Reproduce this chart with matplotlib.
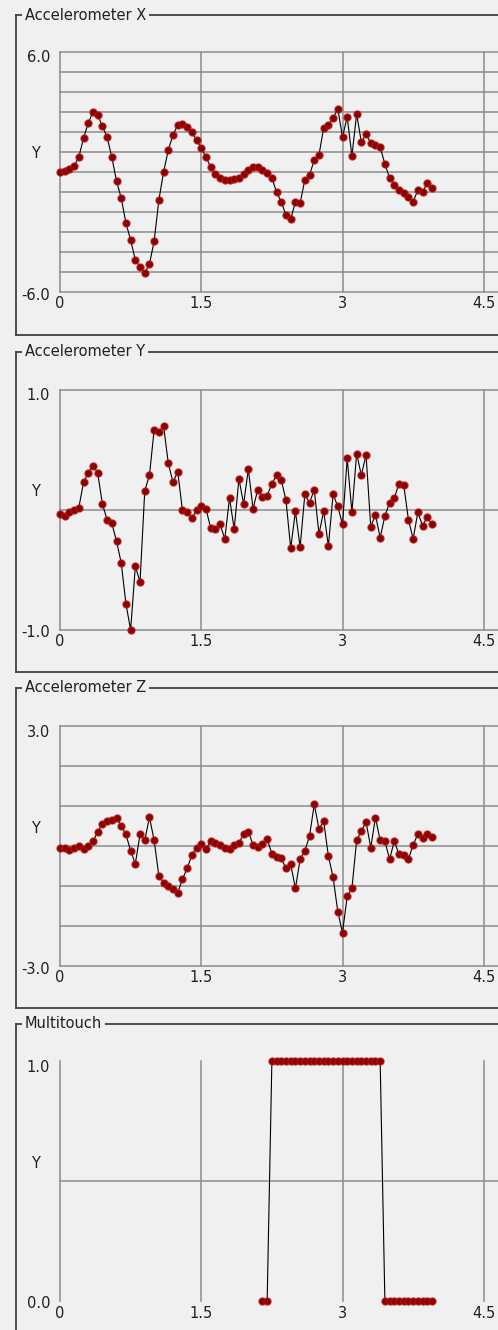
import matplotlib
matplotlib.use('Agg')
import numpy as np
import matplotlib.pyplot as plt
from matplotlib.transforms import offset_copy

# figure size in pixels (dpi 100)
W, H = 498, 1330
BG = '#f0f0f0'
GRID = '#8c8c8c'
FRAME = '#404040'

# sample times of the accelerometer stream (s)
t_acc = [0.00, 0.05, 0.10, 0.15, 0.20, 0.25, 0.30, 0.35, 0.40, 0.45,
         0.50, 0.55, 0.60, 0.65, 0.70, 0.75, 0.80, 0.85, 0.90, 0.95,
         1.00, 1.05, 1.10, 1.15, 1.20, 1.25, 1.30, 1.35, 1.40, 1.45,
         1.50, 1.55, 1.60, 1.65, 1.70, 1.75, 1.80, 1.85, 1.90, 1.95,
         2.00, 2.05, 2.10, 2.15, 2.20, 2.25, 2.30, 2.35, 2.40, 2.45,
         2.50, 2.55, 2.60, 2.65, 2.70, 2.75, 2.80, 2.85, 2.90, 2.95,
         3.00, 3.05, 3.10, 3.15, 3.20, 3.25, 3.30, 3.35, 3.40, 3.45,
         3.50, 3.55, 3.60, 3.65, 3.70, 3.75, 3.80, 3.85, 3.90, 3.95]

acc_x = [0.0, 0.05, 0.15, 0.3, 0.75, 1.7, 2.45, 3.0, 2.85, 2.3,
         1.75, 0.75, -0.45, -1.3, -2.55, -3.4, -4.4, -4.75, -5.05, -4.6,
         -3.45, -1.4, 0.0, 1.1, 1.85, 2.35, 2.4, 2.25, 2.0, 1.6,
         1.2, 0.75, 0.25, -0.1, -0.3, -0.4, -0.4, -0.35, -0.3, -0.1,
         0.1, 0.25, 0.25, 0.1, -0.05, -0.3, -1.0, -1.5, -2.15, -2.35,
         -1.5, -1.55, -0.4, -0.15, 0.6, 0.85, 2.2, 2.35, 2.7, 3.15,
         1.75, 2.75, 0.8, 2.9, 1.5, 1.9, 1.45, 1.35, 1.25, 0.4,
         -0.3, -0.65, -0.9, -1.05, -1.25, -1.5, -0.9, -1.0, -0.55, -0.8]

acc_y = [-0.03, -0.05, -0.02, 0.0, 0.02, 0.23, 0.31, 0.37, 0.31, 0.05,
         -0.08, -0.11, -0.26, -0.44, -0.78, -1.0, -0.47, -0.6, 0.16, 0.29,
         0.67, 0.65, 0.7, 0.39, 0.23, 0.32, 0.0, -0.02, -0.07, 0.0,
         0.03, 0.01, -0.15, -0.16, -0.12, -0.24, 0.1, -0.16, 0.26, 0.05,
         0.34, 0.01, 0.17, 0.11, 0.12, 0.22, 0.29, 0.25, 0.08, -0.32,
         -0.01, -0.31, 0.13, 0.06, 0.17, -0.2, -0.01, -0.3, 0.13, 0.03,
         -0.12, 0.43, -0.02, 0.47, 0.29, 0.46, -0.14, -0.04, -0.23, -0.05,
         0.06, 0.1, 0.22, 0.21, -0.08, -0.24, -0.02, -0.13, -0.06, -0.12]

acc_z = [-0.04, -0.05, -0.1, -0.04, 0.0, -0.08, 0.0, 0.12, 0.35, 0.56,
         0.62, 0.64, 0.71, 0.5, 0.29, -0.12, -0.44, 0.29, 0.14, 0.72,
         0.14, -0.75, -0.92, -1.0, -1.08, -1.17, -0.83, -0.56, -0.23, -0.04,
         0.06, -0.08, 0.12, 0.08, 0.03, -0.04, -0.08, 0.03, 0.08, 0.3,
         0.36, 0.03, -0.03, 0.04, 0.17, -0.19, -0.27, -0.31, -0.56, -0.46,
         -1.06, -0.33, -0.12, 0.25, 1.04, 0.43, 0.62, -0.25, -0.78, -1.64,
         -2.17, -1.25, -1.06, 0.14, 0.37, 0.6, -0.04, 0.71, 0.14, 0.12,
         -0.33, 0.12, -0.21, -0.22, -0.33, 0.03, 0.29, 0.21, 0.29, 0.22]

# multitouch stream only starts at 2.15 s
t_touch = [2.15, 2.20, 2.25, 2.30, 2.35, 2.40, 2.45, 2.50, 2.55, 2.60,
           2.65, 2.70, 2.75, 2.80, 2.85, 2.90, 2.95, 3.00, 3.05, 3.10,
           3.15, 3.20, 3.25, 3.30, 3.35, 3.40, 3.45, 3.50, 3.55, 3.60,
           3.65, 3.70, 3.75, 3.80, 3.85, 3.90, 3.95]
touch = [0, 0, 1, 1, 1, 1, 1, 1, 1, 1,
         1, 1, 1, 1, 1, 1, 1, 1, 1, 1,
         1, 1, 1, 1, 1, 1, 0, 0, 0, 0,
         0, 0, 0, 0, 0, 0, 0]

x_ticks = [0, 1.5, 3, 4.5]
x_tick_labels = ['0', '1.5', '3', '4.5']

# title, t, values, ymin, ymax, y grid lines
panels = [
    ('Accelerometer X', t_acc, acc_x, -6.0, 6.0, list(np.arange(-6, 7, 1.0))),
    ('Accelerometer Y', t_acc, acc_y, -1.0, 1.0, [-1.0, 0.0, 1.0]),
    ('Accelerometer Z', t_acc, acc_z, -3.0, 3.0, list(np.arange(-3, 4, 1.0))),
    ('Multitouch', t_touch, touch, 0.0, 1.0, [0.5]),
]

# layout in pixels
plot_left = 60
plot_w = 565          # runs off the right edge like the screenshot
plot_h = 240
plot_tops = [52, 390, 726, 1061]
box_tops = [15, 352, 688, 1024]
box_bottoms = [335, 672, 1008, None]
box_left = 16

plt.rcParams['font.family'] = 'DejaVu Sans'
FS = 10.5

fig = plt.figure(figsize=(W / 100, H / 100), dpi=100, facecolor=BG)

overlay = fig.add_axes([0, 0, 1, 1])
overlay.set_xlim(0, W)
overlay.set_ylim(H, 0)
overlay.axis('off')

for i, (title, t, vals, lo, hi, ygrid) in enumerate(panels):
    # group box
    top = box_tops[i]
    bot = box_bottoms[i] if box_bottoms[i] is not None else H + 5
    overlay.plot([box_left, W + 5], [top, top], color=FRAME, lw=1.3)
    overlay.plot([box_left, box_left], [top, bot], color=FRAME, lw=1.3)
    if box_bottoms[i] is not None:
        overlay.plot([box_left, W + 5], [bot, bot], color=FRAME, lw=1.3)
    overlay.text(25, top, title, ha='left', va='center', fontsize=FS,
                 color='#202020',
                 bbox=dict(boxstyle='square,pad=0.2', fc=BG, ec='none'))

    ax = fig.add_axes([plot_left / W, 1 - (plot_tops[i] + plot_h) / H,
                       plot_w / W, plot_h / H])
    ax.set_xlim(0, 6)
    ax.set_ylim(lo, hi)
    ax.set_facecolor('none')
    for s in ax.spines.values():
        s.set_visible(False)
    ax.set_xticks([])
    ax.set_yticks([])

    for x in x_ticks + [6]:
        ax.axvline(x, color=GRID, lw=1.1, clip_on=False, zorder=1)
    for y in ygrid:
        ax.axhline(y, color=GRID, lw=1.1, clip_on=False, zorder=1)

    ax.plot(t, vals, color='black', lw=0.8, marker='o', ms=5.2,
            mfc='#8b0000', mec=(0.72, 0.1, 0.1, 0.7), mew=0.9,
            clip_on=False, zorder=3)

    # axis texts
    tr_top = offset_copy(ax.transData, fig=fig, x=-10, y=-6, units='dots')
    tr_bot = offset_copy(ax.transData, fig=fig, x=-10, y=-3, units='dots')
    ax.text(0, hi, f'{hi:.1f}', transform=tr_top, ha='right', va='center',
            fontsize=FS, color='#202020')
    ax.text(0, lo, f'{lo:.1f}', transform=tr_bot, ha='right', va='center',
            fontsize=FS, color='#202020')
    tr_x = offset_copy(ax.transData, fig=fig, x=0, y=-12, units='dots')
    for x, lab in zip(x_ticks, x_tick_labels):
        ax.text(x, lo, lab, transform=tr_x, ha='center', va='center',
                fontsize=FS, color='#202020')
    tr_y = offset_copy(ax.transAxes, fig=fig, x=-25, y=0, units='dots')
    ax.text(0, 0.575, 'Y', transform=tr_y, ha='center', va='center',
            fontsize=FS, color='#202020')

fig.savefig('out.png', dpi=100, facecolor=BG)
